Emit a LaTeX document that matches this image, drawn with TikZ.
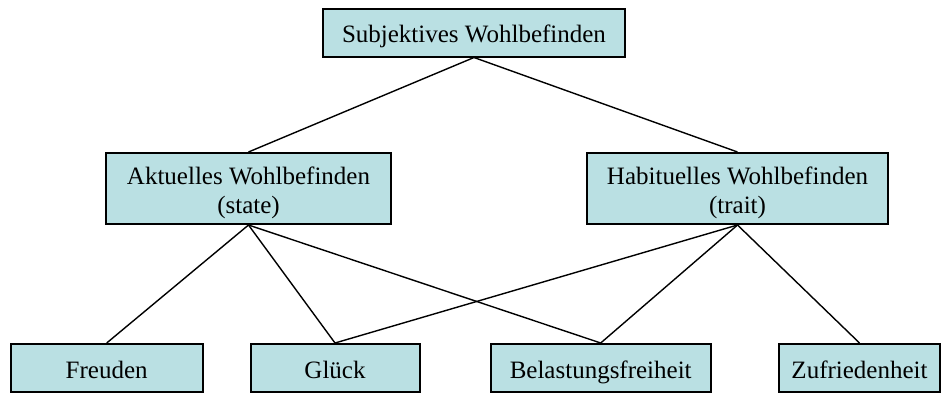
\documentclass[tikz,border=0pt]{standalone}
\usepackage{fontspec}
\setmainfont{Liberation Serif}
\definecolor{boxfill}{RGB}{186,224,227}
\begin{document}
\begin{tikzpicture}[x=1pt,y=-1pt,
  box/.style={draw=black, line width=2pt, fill=boxfill, inner sep=0pt,
    font=\fontsize{25}{29}\selectfont, align=center},
  onebox/.style={box, minimum height=48pt, text height=20pt, text depth=0pt},
  twobox/.style={box, minimum height=71pt},
  link/.style={draw=black, line width=1.4pt}]
\useasboundingbox (0,0) rectangle (942,394);
\node[onebox, minimum width=302pt] (top) at (474,32.5) {Subjektives Wohlbefinden};
\node[twobox, minimum width=285pt] (akt) at (248.5,188.5) {\rule{0pt}{27pt}Aktuelles Wohlbefinden\\(state)\rule[-6pt]{0pt}{6pt}};
\node[twobox, minimum width=301pt] (hab) at (737.5,188.5) {\rule{0pt}{27pt}Habituelles Wohlbefinden\\(trait)\rule[-6pt]{0pt}{6pt}};
\node[onebox, minimum width=192pt] (fre) at (106.7,368) {Freuden};
\node[onebox, minimum width=169pt] (glu) at (335,368) {Glück};
\node[onebox, minimum width=220pt] (bel) at (600.7,368) {Belastungsfreiheit};
\node[onebox, minimum width=161pt] (zuf) at (859.5,368) {Zufriedenheit};
\draw[link] (top.south) -- (akt.north);
\draw[link] (top.south) -- (hab.north);
\draw[link] (akt.south) -- (fre.north);
\draw[link] (akt.south) -- (glu.north);
\draw[link] (akt.south) -- (bel.north);
\draw[link] (hab.south) -- (glu.north);
\draw[link] (hab.south) -- (bel.north);
\draw[link] (hab.south) -- (zuf.north);
\end{tikzpicture}
\end{document}
